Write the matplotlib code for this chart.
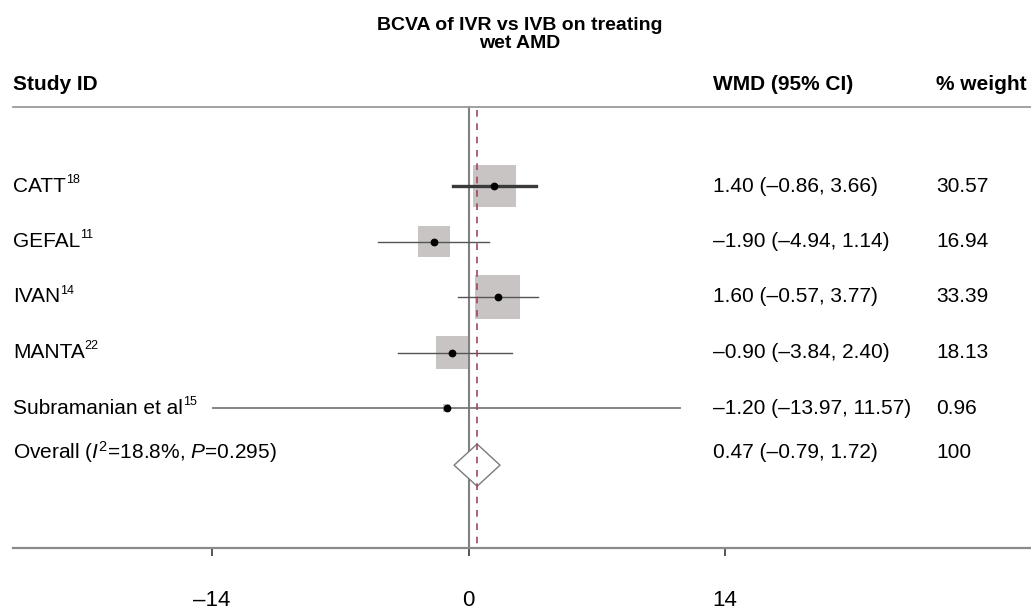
import numpy as np
import matplotlib
matplotlib.use("Agg")
import matplotlib.pyplot as plt

# === 字型設定 === #
plt.rcParams['font.family'] = ['Liberation Sans', 'DejaVu Sans']
plt.rcParams['mathtext.fontset'] = 'custom'
plt.rcParams['mathtext.rm'] = 'Liberation Sans'
plt.rcParams['mathtext.it'] = 'Liberation Sans:italic'

# === 資料 === #
studies = ["CATT", "GEFAL", "IVAN", "MANTA", "Subramanian et al"]
refs = ["18", "11", "14", "22", "15"]
wmd = [1.40, -1.90, 1.60, -0.90, -1.20]
ci_low = [-0.86, -4.94, -0.57, -3.84, -13.97]
ci_high = [3.66, 1.14, 3.77, 2.40, 11.57]
weights = [30.57, 16.94, 33.39, 18.13, 0.96]

overall_wmd = 0.47
overall_low = -0.79
overall_high = 1.72
overall_weight = "100"

xticks = [-14, 0, 14]
xtick_labels = ["\u201314", "0", "14"]


def fmt(v):
    return f"{v:.2f}".replace("-", "\u2013")


# === 畫布：主軸的下緣即為 x 軸 === #
W, H = 1031, 612
fig = plt.figure(figsize=(W / 100, H / 100), dpi=100)
ax = fig.add_axes([13 / W, (H - 548) / H, 1 - 13 / W, 548 / H])

px_per_unit = 18.32
x0 = 468.5
ax.set_xlim((13 - x0) / px_per_unit, (W - x0) / px_per_unit)
row0, row_h = 186, 55.5
ax.set_ylim((548 - row0) / row_h, (0 - row0) / row_h)

for s in ["top", "left", "right"]:
    ax.spines[s].set_visible(False)
ax.spines["bottom"].set_color("#8a8a8a")
ax.spines["bottom"].set_linewidth(1.6)
ax.set_yticks([])
ax.set_xticks(xticks)
ax.set_xticklabels(xtick_labels, fontsize=16,
                   family=['Liberation Sans Narrow', 'Liberation Sans'])
ax.tick_params(axis="x", length=6, width=1.4, color="#555555", pad=24)

y_top = (107 - row0) / row_h
y_bot = (548 - row0) / row_h
rows = np.arange(len(studies))

# 零線與合併效應虛線
ax.plot([0, 0], [y_top, y_bot], color="#808080", lw=1.5, zorder=1)
ax.plot([overall_wmd, overall_wmd], [y_top + 0.05, y_bot], color="#a3455c",
        lw=1.2, dashes=(4, 4), zorder=4)

# 上方分隔線
ax.plot([ax.get_xlim()[0], ax.get_xlim()[1]], [y_top, y_top],
        color="#9a9a9a", lw=1.3, clip_on=False, zorder=1)

# 權重方塊
ax.scatter(wmd, rows, marker="s", s=[31 * w for w in weights],
           color="#c9c4c4", edgecolors="none", zorder=2)

# 信賴區間
for i in rows:
    lw = 2.4 if i == 0 else (1.3 if i == 4 else 1.0)
    col = "#3a3a3a" if i == 0 else ("#7a7a7a" if i == 4 else "#555555")
    ax.plot([ci_low[i], ci_high[i]], [i, i], color=col, lw=lw, zorder=3)
ax.plot(wmd, rows, "o", color="black", ms=4.6, zorder=5)

# 合併效應菱形
yd = 5.03
hh = 0.38
ax.fill([overall_low, overall_wmd, overall_high, overall_wmd, overall_low],
        [yd, yd - hh, yd, yd + hh, yd], facecolor="white",
        edgecolor="#7a7a7a", lw=1.0, zorder=3)

# === 文字 === #
lx = ax.get_xlim()[0]
wx = (713 - x0) / px_per_unit
gx = (936 - x0) / px_per_unit
hy = (85 - row0) / row_h
fs = 15

ax.text(lx, hy, "Study ID", fontsize=fs, fontweight="bold", va="center",
        ha="left", clip_on=False)
ax.text(wx, hy, "WMD (95% CI)", fontsize=fs, fontweight="bold",
        va="center", ha="left", clip_on=False)
ax.text(gx, hy, "% weight", fontsize=fs, fontweight="bold", va="center",
        ha="left", clip_on=False)

tx = (520 - x0) / px_per_unit
ax.text(tx, (25 - row0) / row_h, "BCVA of IVR vs IVB on treating",
        fontsize=14, fontweight="bold", ha="center", va="center",
        clip_on=False)
ax.text(tx, (44 - row0) / row_h, "wet AMD", fontsize=14, fontweight="bold",
        ha="center", va="center", clip_on=False)

for i in rows:
    t = ax.text(lx, i, studies[i], fontsize=fs, va="center", ha="left",
                clip_on=False)
    ax.annotate(refs[i], xy=(1.0, 0.82), xycoords=t, fontsize=9,
                va="center", ha="left", annotation_clip=False)
    ax.text(wx, i, f"{fmt(wmd[i])} ({fmt(ci_low[i])}, {fmt(ci_high[i])})",
            fontsize=fs, va="center", ha="left", clip_on=False)
    ax.text(gx, i, f"{weights[i]:.2f}", fontsize=fs, va="center",
            ha="left", clip_on=False)

oy = (452 - row0) / row_h
ax.text(lx, oy, "Overall ($\\mathit{I}^{2}$=18.8%, $\\mathit{P}$=0.295)",
        fontsize=fs, va="center", ha="left", clip_on=False)
ax.text(wx, oy, f"{fmt(overall_wmd)} ({fmt(overall_low)}, {fmt(overall_high)})",
        fontsize=fs, va="center", ha="left", clip_on=False)
ax.text(gx, oy, overall_weight, fontsize=fs, va="center", ha="left",
        clip_on=False)

fig.savefig("out.png", dpi=100)
plt.close(fig)
